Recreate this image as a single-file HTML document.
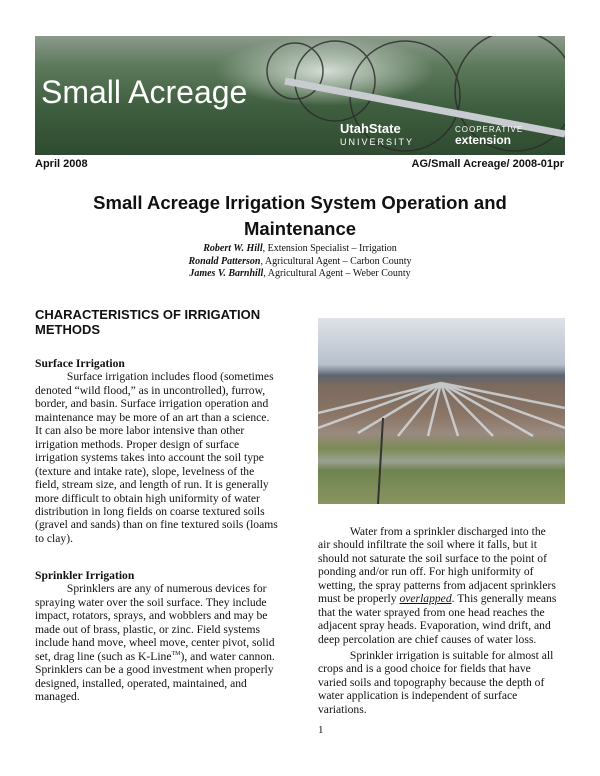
<!DOCTYPE html>
<html><head><meta charset="utf-8"><style>
body{margin:0;width:600px;height:776px;background:#fff;position:relative;overflow:hidden;font-family:"Liberation Serif",serif;color:#111}
.a{position:absolute;white-space:nowrap}
.t{font-size:11.6px;line-height:13.45px}
.s{font-family:"Liberation Sans",sans-serif}
sup{line-height:0}
</style></head><body>
<div class="a" style="left:35px;top:36px;width:530px;height:119px;background:linear-gradient(180deg,#8c9a8c 0%,#5d7a5c 25%,#3f5e3f 60%,#2f4a30 100%);overflow:hidden">
<div style="position:absolute;left:180px;top:0;width:220px;height:70px;background:radial-gradient(ellipse at center,rgba(235,240,235,.85),rgba(200,210,200,0) 70%)"></div>
<svg width="530" height="119" style="position:absolute;left:0;top:0">
<g fill="none" stroke="#2a2a2a" stroke-width="1.5" opacity=".8">
<circle cx="370" cy="60" r="55"/><circle cx="480" cy="55" r="60"/><circle cx="300" cy="45" r="40"/><circle cx="260" cy="35" r="28"/></g>
<path d="M250 45 L530 98" stroke="#c8ccd0" stroke-width="7"/>
</svg>
<div class="a s" style="left:6px;top:38px;font-size:32px;color:#fff">Small Acreage</div>
<div class="a s" style="left:305px;top:87px;font-size:13px;font-weight:bold;color:#fff;line-height:12px">UtahState<br><span style="font-size:9px;font-weight:normal;letter-spacing:2px">UNIVERSITY</span></div>
<div class="a s" style="left:420px;top:88px;font-size:8px;color:#fff;letter-spacing:1px;line-height:11px">COOPERATIVE<br><span style="font-size:12px;font-weight:bold;letter-spacing:0">extension</span></div>
</div>
<div class="a s" style="left:35px;top:158px;font-size:11px;font-weight:bold">April 2008</div>
<div class="a s" style="right:36px;top:158px;font-size:11px;font-weight:bold">AG/Small Acreage/ 2008-01pr</div>
<div class="a s" style="left:0;width:600px;text-align:center;top:190px;font-size:18.5px;font-weight:bold;line-height:26px;white-space:normal">Small Acreage Irrigation System Operation and<br>Maintenance</div>
<div class="a" style="left:0;width:600px;text-align:center;top:243px;font-size:10px;line-height:12.5px;white-space:normal"><b><i>Robert W. Hill</i></b>, Extension Specialist – Irrigation<br><b><i>Ronald Patterson</i></b>, Agricultural Agent – Carbon County<br><b><i>James V. Barnhill</i></b>, Agricultural Agent – Weber County</div>
<div class="a s" style="left:35px;top:307px;font-size:13px;font-weight:bold;line-height:15px">CHARACTERISTICS OF IRRIGATION<br>METHODS</div>
<div class="a t" style="left:35px;top:357px"><b>Surface Irrigation</b><br>
<span style="display:inline-block;height:4px"></span>&nbsp;&nbsp;&nbsp;&nbsp;&nbsp;&nbsp;&nbsp;&nbsp;&nbsp;&nbsp;&nbsp;Surface irrigation includes flood (sometimes<br>
denoted “wild flood,” as in uncontrolled), furrow,<br>
border, and basin. Surface irrigation operation and<br>
maintenance may be more of an art than a science.<br>
It can also be more labor intensive than other<br>
irrigation methods. Proper design of surface<br>
irrigation systems takes into account the soil type<br>
(texture and intake rate), slope, levelness of the<br>
field, stream size, and length of run. It is generally<br>
more difficult to obtain high uniformity of water<br>
distribution in long fields on coarse textured soils<br>
(gravel and sands) than on fine textured soils (loams<br>
to clay).</div>
<div class="a t" style="left:35px;top:569px"><b>Sprinkler Irrigation</b><br>
&nbsp;&nbsp;&nbsp;&nbsp;&nbsp;&nbsp;&nbsp;&nbsp;&nbsp;&nbsp;&nbsp;Sprinklers are any of numerous devices for<br>
spraying water over the soil surface. They include<br>
impact, rotators, sprays, and wobblers and may be<br>
made out of brass, plastic, or zinc. Field systems<br>
include hand move, wheel move, center pivot, solid<br>
set, drag line (such as K-Line<sup style="font-size:6px">TM</sup>), and water cannon.<br>
Sprinklers can be a good investment when properly<br>
designed, installed, operated, maintained, and<br>
managed.</div>
<div class="a" style="left:318px;top:318px;width:247px;height:186px;overflow:hidden;background:linear-gradient(180deg,#dfe3e8 0%,#b8c0cc 25%,#5b6470 31%,#7a6a5e 36%,#8a7566 52%,#9a8a80 62%,#7b8a55 70%,#9aa090 77%,#6f8450 82%,#8a9460 100%)">
<svg width="247" height="186" style="position:absolute;left:0;top:0"><g stroke="#d8dde2" stroke-width="2.5" opacity=".8">
<path d="M123 65 L0 110"/><path d="M123 65 L40 115"/><path d="M123 65 L80 118"/><path d="M123 65 L110 118"/><path d="M123 65 L140 118"/><path d="M123 65 L175 118"/><path d="M123 65 L215 118"/><path d="M123 65 L247 110"/><path d="M123 65 L247 90"/><path d="M123 65 L0 95"/></g>
<line x1="65" y1="100" x2="60" y2="186" stroke="#333" stroke-width="2"/></svg></div>
<div class="a t" style="left:318px;top:525px">
&nbsp;&nbsp;&nbsp;&nbsp;&nbsp;&nbsp;&nbsp;&nbsp;&nbsp;&nbsp;&nbsp;Water from a sprinkler discharged into the<br>
air should infiltrate the soil where it falls, but it<br>
should not saturate the soil surface to the point of<br>
ponding and/or run off. For high uniformity of<br>
wetting, the spray patterns from adjacent sprinklers<br>
must be properly <i><u>overlapped</u></i>. This generally means<br>
that the water sprayed from one head reaches the<br>
adjacent spray heads. Evaporation, wind drift, and<br>
deep percolation are chief causes of water loss.</div>
<div class="a t" style="left:318px;top:649px">
&nbsp;&nbsp;&nbsp;&nbsp;&nbsp;&nbsp;&nbsp;&nbsp;&nbsp;&nbsp;&nbsp;Sprinkler irrigation is suitable for almost all<br>
crops and is a good choice for fields that have<br>
varied soils and topography because the depth of<br>
water application is independent of surface<br>
variations.</div>
<div class="a" style="left:318px;top:724px;font-size:11px">1</div>
</body></html>
